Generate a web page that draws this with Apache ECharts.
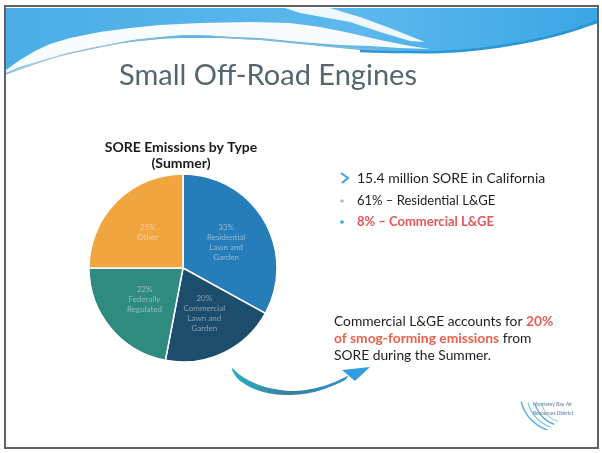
<!DOCTYPE html>
<html>
<head>
<meta charset="utf-8">
<script src="https://cdn.jsdelivr.net/npm/echarts@6/dist/echarts.min.js"></script>
<style>
  html, body { margin: 0; padding: 0; background: #fff; }
  #main { width: 602px; height: 453px; }
</style>
</head>
<body>
<div id="main"></div>
<script>
// pie data (summer SORE emissions by type)
const categories = ['Residential Lawn and Garden', 'Commercial Lawn and Garden', 'Federally Regulated', 'Other']
const shares = [33, 20, 22, 25]
const sliceNames = ['Residential\nLawn and\nGarden', 'Commercial\nLawn and\nGarden', 'Federally\nRegulated', 'Other']
const sliceColors = ['#267db9', '#1d4d6c', '#2f8a80', '#f1a541']

const font = 'Lato, "Open Sans", sans-serif'

var myChart = echarts.init(document.getElementById('main'))

// header wave + frame + slide text
const graphics = [
  // blue band at top
  {
    type: 'polygon', silent: true, z: 1,
    shape: {
      points: [[6, 8], [597, 8], [597, 22], [585, 26], [570, 30], [555, 35], [540, 39], [520, 43], [500, 46],
        [480, 49], [460, 51], [440, 52], [420, 52], [400, 52], [380, 51], [360, 50], [340, 48], [320, 46],
        [300, 44], [280, 42], [260, 40], [240, 39], [220, 38], [200, 38], [180, 38], [160, 39], [140, 41],
        [120, 43], [100, 46], [80, 50], [60, 55], [40, 61], [20, 68], [6, 74]]
    },
    style: {
      fill: { type: 'linear', x: 0, y: 0, x2: 1, y2: 0,
        colorStops: [{ offset: 0, color: '#4aaee6' }, { offset: 0.6, color: '#5cb8ee' }, { offset: 1, color: '#3aa6e4' }] }
    }
  },
  // white wave
  {
    type: 'polygon', silent: true, z: 2,
    shape: {
      points: [[6, 70], [20, 60], [35, 51], [50, 44], [70, 38], [100, 32], [130, 28], [160, 25], [200, 23],
        [250, 22], [290, 23], [320, 27], [350, 33], [380, 40], [410, 46], [430, 49],
        [400, 48], [370, 46], [340, 45], [300, 42], [260, 38], [233, 37], [200, 35], [183, 35], [160, 37],
        [133, 40], [100, 46], [67, 53], [40, 61], [20, 67], [6, 73]]
    },
    style: { fill: '#ffffff', opacity: 0.96 }
  },
  // white streak top right
  {
    type: 'polygon', silent: true, z: 2,
    shape: { points: [[285, 8], [330, 8], [360, 17], [390, 28], [425, 42], [410, 41], [380, 32], [350, 22], [300, 13]] },
    style: { fill: '#ffffff', opacity: 0.9 }
  },
  // thin line under white wave
  {
    type: 'polyline', silent: true, z: 3,
    shape: { smooth: 0.3, points: [[6, 74], [40, 62], [67, 54], [100, 47], [133, 41], [160, 38], [183, 36], [210, 36],
      [233, 38], [270, 40], [300, 43], [340, 47], [380, 50], [420, 52], [440, 52]] },
    style: { stroke: '#8db9d2', lineWidth: 1.2, fill: null }
  },
  // darker blue edge on the right
  {
    type: 'polyline', silent: true, z: 3,
    shape: { smooth: 0.3, points: [[360, 51], [400, 52], [440, 52], [480, 49], [520, 43], [560, 34], [597, 22]] },
    style: { stroke: '#2a96d6', lineWidth: 2.5, fill: null }
  },
  // slide frame
  {
    type: 'rect', silent: true, z: 4,
    shape: { x: 5, y: 6, width: 593, height: 442 },
    style: { fill: null, stroke: '#5f6266', lineWidth: 2 }
  },
  // slide title
  {
    type: 'text', silent: true, z: 5,
    style: { text: 'Small Off-Road Engines', x: 268, y: 76, textAlign: 'center', textVerticalAlign: 'middle',
      font: '29px ' + font, fill: '#56656f' }
  },
  // pie title
  {
    type: 'text', silent: true, z: 5,
    style: { text: 'SORE Emissions by Type', x: 181, y: 147, textAlign: 'center', textVerticalAlign: 'middle',
      font: 'bold 14px ' + font, fill: '#1a1a1a' }
  },
  {
    type: 'text', silent: true, z: 5,
    style: { text: '(Summer)', x: 181, y: 163, textAlign: 'center', textVerticalAlign: 'middle',
      font: 'bold 14px ' + font, fill: '#1a1a1a' }
  },
  // bullets
  {
    type: 'polyline', silent: true, z: 5,
    shape: { points: [[341, 173], [348, 178], [342, 183]] },
    style: { stroke: '#3aa0d8', lineWidth: 2, fill: null }
  },
  {
    type: 'text', silent: true, z: 5,
    style: { text: '15.4 million SORE in California', x: 357, y: 178, textVerticalAlign: 'middle',
      font: '14px ' + font, fill: '#1e1e1e' }
  },
  { type: 'circle', silent: true, z: 5, shape: { cx: 342, cy: 201, r: 1.8 }, style: { fill: '#b8bcc0' } },
  {
    type: 'text', silent: true, z: 5,
    style: { text: '61% \u2013 Residential L&GE', x: 357, y: 201, textVerticalAlign: 'middle',
      font: '13px ' + font, fill: '#1e1e1e' }
  },
  { type: 'circle', silent: true, z: 5, shape: { cx: 342, cy: 222, r: 1.8 }, style: { fill: '#3aa0d8' } },
  {
    type: 'text', silent: true, z: 5,
    style: { text: '8% \u2013 Commercial L&GE', x: 357, y: 222, textVerticalAlign: 'middle',
      font: 'bold 13px ' + font, fill: '#e2585a' }
  },
  // note text
  {
    type: 'text', silent: true, z: 5,
    style: {
      text: '{n|Commercial L&GE accounts for }{r|20%}\n{r|of smog-forming emissions}{n| from}\n{n|SORE during the Summer.}',
      x: 334, y: 313,
      rich: {
        n: { font: '13.8px ' + font, fill: '#1e1e1e', lineHeight: 17 },
        r: { font: 'bold 13.8px ' + font, fill: '#e8614e', lineHeight: 17 }
      }
    }
  },
  // curved arrow
  {
    type: 'polygon', silent: true, z: 5,
    shape: {
      smooth: 0.3,
      points: [[232, 368], [240, 375], [250, 381], [262, 386], [275, 389], [290, 391], [305, 390], [320, 387],
        [335, 382], [348, 376], [345, 380], [332, 386], [318, 391], [303, 394], [288, 395], [273, 394],
        [260, 391], [248, 386], [238, 379], [233, 372]]
    },
    style: {
      fill: { type: 'linear', x: 0, y: 0, x2: 1, y2: 0,
        colorStops: [{ offset: 0, color: '#2aaec4' }, { offset: 0.5, color: '#3a7f9c' }, { offset: 1, color: '#2b8fd6' }] }
    }
  },
  {
    type: 'polygon', silent: true, z: 5,
    shape: { points: [[342, 370], [370, 367], [355, 381]] },
    style: { fill: '#2f9de0' }
  },
  // logo
  {
    type: 'group', silent: true, z: 5,
    children: [
      { type: 'arc', shape: { cx: 560, cy: 392, r: 40, startAngle: 1.9, endAngle: 2.9 }, style: { stroke: '#5aaee0', lineWidth: 1.5, fill: null } },
      { type: 'arc', shape: { cx: 562, cy: 394, r: 35, startAngle: 1.9, endAngle: 2.9 }, style: { stroke: '#7fc0e8', lineWidth: 1.3, fill: null } },
      { type: 'arc', shape: { cx: 564, cy: 396, r: 30, startAngle: 1.9, endAngle: 2.9 }, style: { stroke: '#4aa0d6', lineWidth: 1.2, fill: null } },
      { type: 'arc', shape: { cx: 566, cy: 398, r: 25, startAngle: 1.9, endAngle: 2.9 }, style: { stroke: '#9dd0ee', lineWidth: 1.2, fill: null } },
      { type: 'text', style: { text: 'Monterey Bay Air', x: 533, y: 404, textVerticalAlign: 'middle', font: 'bold 5px ' + font, fill: '#7892b0' } },
      { type: 'text', style: { text: 'Resources District', x: 533, y: 413, textVerticalAlign: 'middle', font: 'bold 5px ' + font, fill: '#7892b0' } }
    ]
  }
]

myChart.setOption({
  animation: false,
  backgroundColor: '#ffffff',
  graphic: graphics,
  series: [{
    name: 'SORE Emissions by Type (Summer)',
    type: 'pie',
    center: [183, 268],
    radius: [0, 94],
    startAngle: 90,
    clockwise: true,
    silent: true,
    itemStyle: { borderColor: '#ffffff', borderWidth: 1.5 },
    label: {
      position: 'inside',
      fontFamily: font,
      fontSize: 8,
      lineHeight: 10,
      color: 'rgba(255,255,255,0.45)',
      formatter: p => p.value + '%\n' + sliceNames[p.dataIndex]
    },
    labelLine: { show: false },
    data: categories.map((c, i) => ({ name: c, value: shares[i], itemStyle: { color: sliceColors[i] } }))
  }]
})
</script>
</body>
</html>
